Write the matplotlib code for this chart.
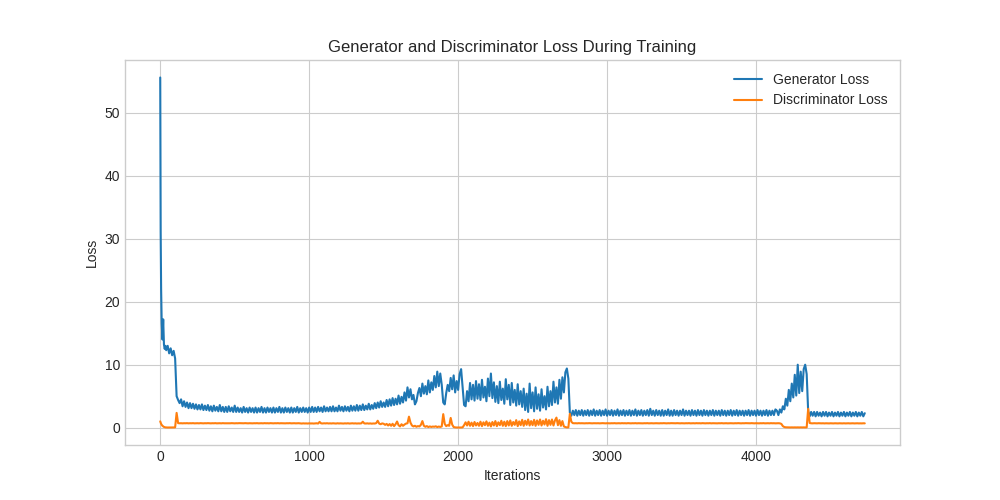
import matplotlib
matplotlib.use("Agg")
import matplotlib.pyplot as plt

# First few iterations (the loss drops very fast here)
head_iters = [0, 3, 6, 10, 15, 20, 25, 30, 35]
gen_head = [55.6, 31.0, 22.0, 16.5, 14.0, 17.2, 13.2, 12.5, 13.0]
disc_head = [1.0, 0.8, 0.6, 0.45, 0.3, 0.2, 0.12, 0.08, 0.05]

# After that one value every 10 iterations, from 40 to 4730 (10 values per row)
gen_loss = [
    12.3, 13.0, 11.8, 12.6, 11.5, 12.2, 11.0, 5.0, 4.4, 3.9,   # 40
    4.5, 3.4, 4.2, 3.3, 4.0, 3.1, 3.9, 3.1, 3.8, 3.0,          # 140
    3.7, 2.9, 3.6, 2.9, 3.7, 2.8, 3.5, 2.8, 3.6, 2.7,          # 240
    3.4, 2.6, 3.5, 2.7, 3.3, 2.6, 3.6, 2.6, 3.3, 2.5,          # 340
    3.3, 2.5, 3.4, 2.6, 3.2, 2.5, 3.5, 2.5, 3.2, 2.5,          # 440
    3.1, 2.4, 3.3, 2.5, 3.1, 2.4, 3.2, 2.5, 3.1, 2.4,          # 540
    3.2, 2.4, 3.1, 2.5, 3.3, 2.4, 3.1, 2.4, 3.2, 2.5,          # 640
    3.1, 2.4, 3.2, 2.4, 3.1, 2.5, 3.3, 2.4, 3.1, 2.4,          # 740
    3.2, 2.5, 3.1, 2.4, 3.2, 2.4, 3.1, 2.5, 3.3, 2.4,          # 840
    3.1, 2.5, 3.2, 2.5, 3.1, 2.4, 3.2, 2.5, 3.3, 2.5,          # 940
    3.2, 2.5, 3.3, 2.6, 3.2, 2.5, 3.4, 2.6, 3.2, 2.6,          # 1040
    3.3, 2.6, 3.4, 2.6, 3.2, 2.6, 3.5, 2.7, 3.3, 2.6,          # 1140
    3.4, 2.7, 3.3, 2.6, 3.5, 2.7, 3.4, 2.7, 3.6, 2.7,          # 1240
    3.5, 2.8, 3.7, 2.8, 3.5, 2.9, 3.8, 2.9, 3.6, 3.0,          # 1340
    3.9, 3.1, 4.0, 3.2, 4.2, 3.3, 4.0, 3.3, 4.4, 3.4,          # 1440
    4.5, 3.5, 4.7, 3.6, 4.6, 3.7, 5.1, 3.8, 4.9, 4.0,          # 1540
    5.6, 4.3, 6.4, 4.8, 6.1, 4.5, 5.2, 3.7, 4.2, 5.5,          # 1640
    6.3, 5.0, 7.0, 5.4, 6.6, 5.3, 7.5, 5.6, 7.2, 6.0,          # 1740
    8.2, 6.4, 8.9, 6.6, 8.6, 6.8, 4.0, 3.7, 5.5, 6.8,          # 1840
    5.8, 7.9, 6.1, 8.3, 5.6, 7.4, 6.0, 8.5, 9.3, 6.5,          # 1940
    3.6, 3.4, 5.8, 4.2, 7.1, 4.5, 6.8, 4.3, 7.4, 4.6,          # 2040
    6.9, 4.4, 7.6, 4.8, 6.5, 4.2, 7.8, 5.0, 8.6, 4.7,          # 2140
    7.2, 4.1, 6.6, 3.9, 7.3, 4.4, 6.2, 3.8, 7.7, 4.5,          # 2240
    6.8, 3.6, 7.1, 4.0, 6.0, 3.5, 6.9, 3.7, 5.8, 3.3,          # 2340
    6.2, 2.8, 5.4, 2.5, 7.0, 3.1, 5.6, 2.6, 6.4, 3.0,          # 2440
    5.3, 2.7, 6.1, 3.2, 5.0, 2.9, 6.5, 3.4, 5.8, 3.6,          # 2540
    7.3, 4.0, 6.4, 3.8, 7.6, 4.6, 8.0, 5.6, 8.8, 9.4,          # 2640
    7.8, 2.4, 1.9, 2.7, 2.0, 2.8, 1.9, 2.7, 2.0, 2.8,          # 2740
    1.9, 2.7, 2.0, 2.8, 1.9, 2.7, 2.0, 2.9, 1.9, 2.7,          # 2840
    2.0, 2.8, 1.9, 2.7, 2.0, 2.9, 1.9, 2.7, 2.0, 2.8,          # 2940
    1.9, 2.7, 2.0, 2.9, 1.9, 2.7, 2.0, 2.8, 1.9, 2.7,          # 3040
    2.0, 2.8, 1.9, 2.7, 2.0, 2.9, 1.9, 2.7, 2.0, 2.8,          # 3140
    1.9, 2.7, 2.0, 2.8, 1.9, 3.0, 2.0, 2.7, 1.9, 2.8,          # 3240
    2.0, 2.7, 1.9, 2.8, 1.9, 2.7, 2.0, 2.9, 1.9, 2.7,          # 3340
    1.9, 2.8, 2.0, 2.7, 1.9, 2.7, 2.0, 2.9, 1.9, 2.7,          # 3440
    2.0, 2.7, 1.9, 2.8, 2.0, 2.7, 1.9, 2.8, 2.0, 2.7,          # 3540
    1.9, 2.8, 2.0, 2.7, 1.9, 2.7, 2.0, 2.8, 1.9, 2.7,          # 3640
    2.0, 2.7, 1.9, 2.8, 2.0, 2.7, 1.9, 2.7, 2.0, 2.8,          # 3740
    1.9, 2.7, 2.0, 2.8, 1.9, 2.7, 2.0, 2.7, 1.9, 2.7,          # 3840
    2.0, 2.8, 1.9, 2.7, 2.0, 2.7, 1.9, 2.8, 2.0, 2.7,          # 3940
    1.9, 2.7, 2.0, 2.8, 1.9, 2.7, 2.0, 2.7, 2.0, 2.9,          # 4040
    2.7, 2.0, 2.9, 2.4, 3.4, 2.9, 4.6, 3.5, 6.0, 4.2,          # 4140
    7.0, 4.8, 8.4, 5.1, 10.0, 5.5, 8.9, 5.8, 9.3, 10.0,        # 4240
    8.5, 2.6, 1.8, 2.5, 1.9, 2.5, 1.8, 2.5, 1.9, 2.4,          # 4340
    1.8, 2.5, 1.9, 2.5, 1.8, 2.4, 1.9, 2.5, 1.8, 2.4,          # 4440
    1.9, 2.5, 1.8, 2.4, 1.9, 2.5, 1.8, 2.4, 1.9, 2.5,          # 4540
    1.8, 2.4, 1.9, 2.5, 1.8, 2.4, 1.9, 2.5, 1.8, 2.3,          # 4640
]

disc_loss = [
    0.04, 0.03, 0.03, 0.03, 0.03, 0.04, 0.05, 2.35, 0.72, 0.70,   # 40
    0.71, 0.69, 0.71, 0.70, 0.72, 0.69, 0.71, 0.70, 0.72, 0.69,   # 140
    0.70, 0.71, 0.69, 0.72, 0.70, 0.69, 0.71, 0.70, 0.72, 0.70,   # 240
    0.69, 0.71, 0.70, 0.72, 0.69, 0.70, 0.71, 0.69, 0.72, 0.70,   # 340
    0.70, 0.69, 0.71, 0.70, 0.72, 0.70, 0.69, 0.71, 0.70, 0.72,   # 440
    0.71, 0.69, 0.70, 0.72, 0.70, 0.69, 0.71, 0.70, 0.69, 0.71,   # 540
    0.70, 0.72, 0.69, 0.70, 0.71, 0.69, 0.72, 0.70, 0.71, 0.69,   # 640
    0.72, 0.70, 0.69, 0.71, 0.70, 0.72, 0.69, 0.71, 0.70, 0.70,   # 740
    0.69, 0.71, 0.70, 0.72, 0.69, 0.70, 0.71, 0.69, 0.70, 0.71,   # 840
    0.68, 0.66, 0.69, 0.67, 0.68, 0.66, 0.69, 0.67, 0.68, 0.66,   # 940
    0.68, 0.70, 0.66, 0.92, 0.69, 0.67, 0.70, 0.68, 0.71, 0.67,   # 1040
    0.69, 0.67, 0.70, 0.68, 0.66, 0.70, 0.67, 0.69, 0.68, 0.66,   # 1140
    0.69, 0.67, 0.70, 0.66, 0.68, 0.70, 0.67, 0.69, 0.66, 0.68,   # 1240
    0.67, 0.69, 0.95, 0.68, 0.66, 0.69, 0.65, 0.68, 0.64, 0.67,   # 1340
    0.66, 0.72, 1.10, 0.65, 0.55, 0.68, 0.62, 0.45, 0.60, 0.35,   # 1440
    0.58, 0.30, 0.62, 0.25, 0.55, 0.98, 0.40, 0.20, 0.55, 0.30,   # 1540
    0.50, 0.65, 0.70, 1.75, 0.80, 0.35, 0.20, 0.30, 0.15, 0.25,   # 1640
    0.20, 0.45, 1.05, 0.30, 0.15, 0.25, 0.10, 0.20, 0.12, 0.18,   # 1740
    0.15, 0.22, 0.10, 0.18, 0.12, 0.20, 2.15, 0.60, 0.25, 0.40,   # 1840
    0.30, 1.55, 0.50, 0.10, 0.05, 0.03, 0.03, 0.04, 0.03, 0.05,   # 1940
    0.40, 0.85, 0.35, 0.95, 0.30, 0.80, 0.25, 0.90, 0.35, 0.75,   # 2040
    0.30, 0.95, 0.25, 0.85, 0.40, 1.00, 0.30, 0.80, 0.20, 0.90,   # 2140
    0.35, 1.05, 0.25, 0.85, 0.40, 1.10, 0.30, 0.95, 0.25, 1.05,   # 2240
    0.35, 1.15, 0.30, 0.90, 0.45, 1.20, 0.25, 1.00, 0.40, 1.25,   # 2340
    0.30, 1.10, 0.45, 1.30, 0.35, 1.05, 0.40, 1.25, 0.30, 1.15,   # 2440
    0.45, 1.30, 0.35, 1.10, 0.50, 1.35, 0.30, 1.20, 0.45, 1.30,   # 2540
    0.35, 1.15, 1.60, 0.40, 1.20, 0.30, 1.05, 0.20, 0.10, 0.04,   # 2640
    0.05, 2.20, 0.95, 0.72, 0.70, 0.71, 0.69, 0.72, 0.70, 0.71,   # 2740
    0.70, 0.69, 0.71, 0.70, 0.72, 0.70, 0.69, 0.71, 0.70, 0.70,   # 2840
    0.71, 0.69, 0.70, 0.72, 0.70, 0.69, 0.71, 0.70, 0.69, 0.71,   # 2940
    0.70, 0.72, 0.69, 0.70, 0.71, 0.69, 0.72, 0.70, 0.71, 0.69,   # 3040
    0.72, 0.70, 0.69, 0.71, 0.70, 0.72, 0.69, 0.71, 0.70, 0.70,   # 3140
    0.69, 0.71, 0.70, 0.72, 0.69, 0.70, 0.71, 0.69, 0.70, 0.71,   # 3240
    0.70, 0.69, 0.71, 0.70, 0.72, 0.70, 0.69, 0.71, 0.70, 0.72,   # 3340
    0.71, 0.69, 0.70, 0.72, 0.70, 0.69, 0.71, 0.70, 0.69, 0.71,   # 3440
    0.70, 0.72, 0.69, 0.70, 0.71, 0.69, 0.72, 0.70, 0.71, 0.69,   # 3540
    0.72, 0.70, 0.69, 0.71, 0.70, 0.72, 0.69, 0.71, 0.70, 0.70,   # 3640
    0.69, 0.71, 0.70, 0.72, 0.69, 0.70, 0.71, 0.69, 0.70, 0.71,   # 3740
    0.70, 0.69, 0.71, 0.70, 0.72, 0.70, 0.69, 0.71, 0.70, 0.72,   # 3840
    0.71, 0.69, 0.70, 0.72, 0.70, 0.69, 0.71, 0.70, 0.69, 0.71,   # 3940
    0.70, 0.72, 0.69, 0.70, 0.71, 0.69, 0.72, 0.70, 0.71, 0.69,   # 4040
    0.70, 0.71, 0.69, 0.60, 0.25, 0.10, 0.06, 0.05, 0.05, 0.04,   # 4140
    0.05, 0.04, 0.05, 0.04, 0.05, 0.04, 0.05, 0.04, 0.05, 0.04,   # 4240
    0.05, 3.00, 0.75, 0.70, 0.69, 0.71, 0.70, 0.69, 0.71, 0.70,   # 4340
    0.69, 0.70, 0.68, 0.70, 0.69, 0.68, 0.70, 0.69, 0.68, 0.70,   # 4440
    0.69, 0.68, 0.70, 0.69, 0.68, 0.70, 0.68, 0.69, 0.70, 0.68,   # 4540
    0.69, 0.70, 0.68, 0.69, 0.70, 0.68, 0.69, 0.68, 0.70, 0.69,   # 4640
]

iters = head_iters + list(range(40, 40 + 10 * len(gen_loss), 10))
G_losses = gen_head + gen_loss
D_losses = disc_head + disc_loss

plt.style.use("seaborn-v0_8-whitegrid")
fig = plt.figure(figsize=(10, 5), dpi=100)
plt.title("Generator and Discriminator Loss During Training")
plt.plot(iters, G_losses, label="Generator Loss")
plt.plot(iters, D_losses, label="Discriminator Loss")
plt.xlabel("Iterations")
plt.ylabel("Loss")
plt.legend()
plt.savefig("out.png")
